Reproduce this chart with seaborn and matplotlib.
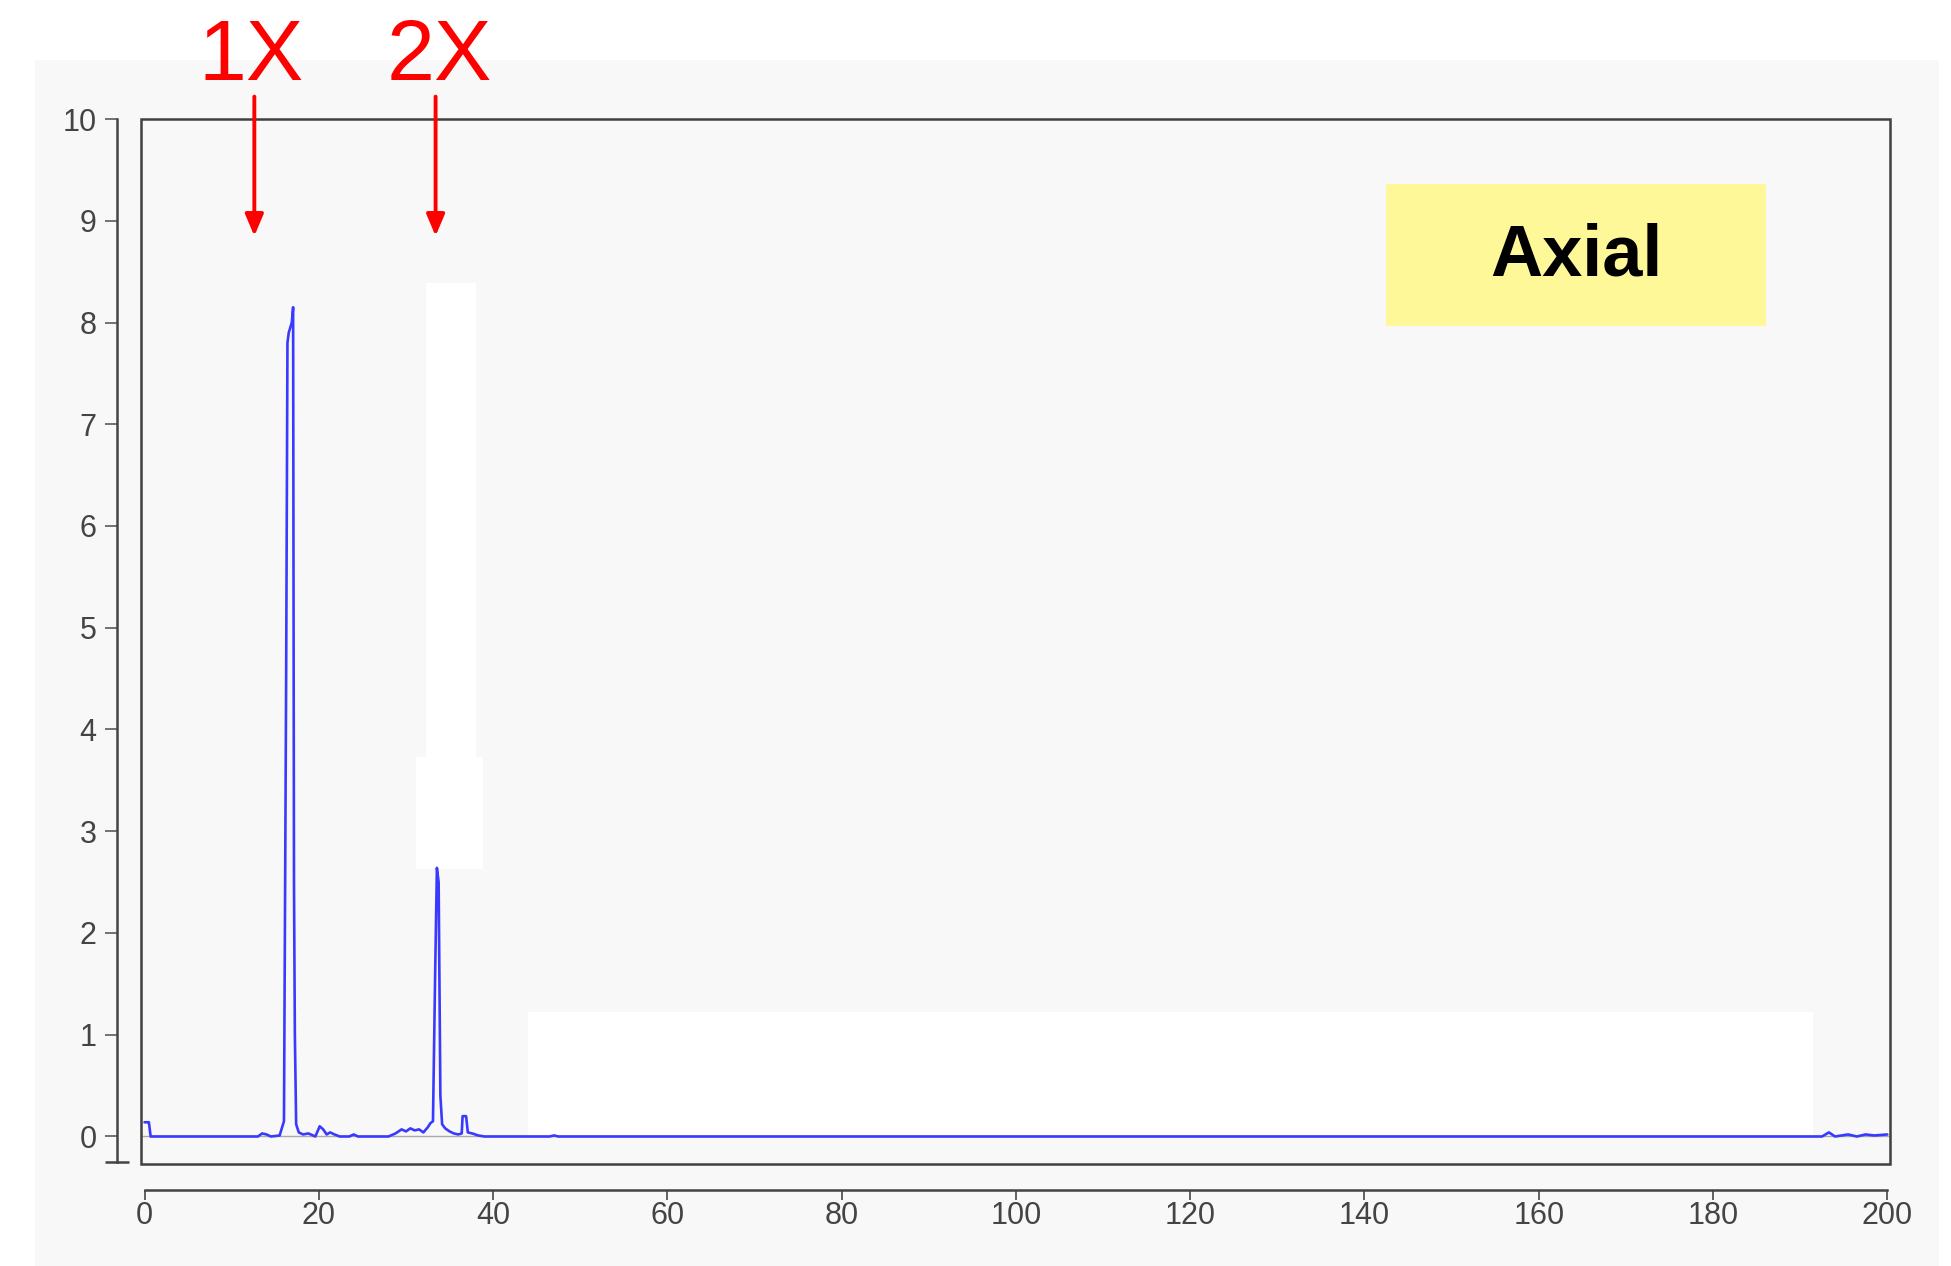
import matplotlib
matplotlib.use('Agg')
import matplotlib.pyplot as plt
from matplotlib.patches import Rectangle
import seaborn as sns

# spectrum (frequency, amplitude)
freq = [0, 0.3, 0.5, 0.7, 13.0, 13.5, 14.0, 14.5, 15.5, 16.0, 16.25, 16.4, 16.55,
        16.9, 17.05, 17.15, 17.25, 17.4, 17.7, 18.2, 18.8, 19.6, 20.1, 20.5, 20.9,
        21.3, 21.8, 22.4, 23.5, 24.0, 24.5, 28.0, 28.8, 29.5, 30.0, 30.5, 31.0,
        31.5, 32.0, 32.5, 32.8, 33.1, 33.35, 33.55, 33.75, 33.95, 34.15, 34.5,
        35.0, 35.5, 36.0, 36.4, 36.5, 36.9, 37.1, 37.6, 38.3, 39.0, 46.5, 47.0,
        47.5, 192.5, 193.3, 194.0, 195.5, 196.5, 197.5, 198.5, 200]
amp = [0.14, 0.14, 0.14, 0.0, 0.0, 0.03, 0.02, 0.0, 0.01, 0.15, 4.5, 7.8, 7.9,
       8.0, 8.15, 2.5, 1.0, 0.12, 0.04, 0.02, 0.03, 0.0, 0.1, 0.07, 0.02,
       0.04, 0.02, 0.0, 0.0, 0.02, 0.0, 0.0, 0.03, 0.07, 0.05, 0.08, 0.06,
       0.07, 0.04, 0.09, 0.13, 0.15, 1.6, 2.64, 2.5, 0.4, 0.12, 0.08,
       0.05, 0.03, 0.02, 0.03, 0.2, 0.2, 0.04, 0.03, 0.01, 0.0, 0.0, 0.01,
       0.0, 0.0, 0.04, 0.0, 0.02, 0.0, 0.02, 0.01, 0.02]

x_ticks = [0, 20, 40, 60, 80, 100, 120, 140, 160, 180, 200]
y_ticks = [0, 1, 2, 3, 4, 5, 6, 7, 8, 9, 10]

# harmonic markers
order_labels = ['1X', '2X']
order_freq = [12.6, 33.4]
order_label_x = [12.2, 33.8]

panel_title = 'Axial'

sns.set_style('white')
plt.rcParams['font.family'] = ['Liberation Sans', 'DejaVu Sans']

fig = plt.figure(figsize=(19.51, 12.66), dpi=100)
fig.patch.set_facecolor('white')
# light grey slide panel behind the chart
fig.patches.append(Rectangle((35 / 1951, 0), (1939 - 35) / 1951, 1 - 60 / 1266,
                             transform=fig.transFigure, facecolor='#f8f8f8',
                             edgecolor='none', zorder=-10))

ax = fig.add_axes([0.0723, 0.0806, 0.8964, 0.8254])
ax.set_facecolor('#f8f8f8')

# erased white areas seen in the picture
for (px, py, pw, ph) in [(0.163, 0.387, 0.0284, 0.456),
                         (0.157, 0.2825, 0.0384, 0.107),
                         (0.221, 0.0274, 0.735, 0.118)]:
    ax.add_patch(Rectangle((px, py), pw, ph, transform=ax.transAxes,
                           facecolor='white', edgecolor='none', zorder=0.5))

ax.axhline(0, color='#aaaaaa', lw=1.0, zorder=1)
sns.lineplot(x=freq, y=amp, ax=ax, color='#3a3aff', lw=1.9, sort=False,
             estimator=None, zorder=2)

ax.set_xlim(-0.4, 200.3)
ax.set_ylim(-0.27, 10)

# plot frame
ax.add_patch(Rectangle((0, 0), 1, 1, transform=ax.transAxes, fill=False,
                       edgecolor='#404040', lw=1.8, clip_on=False, zorder=5))

for side in ['top', 'right']:
    ax.spines[side].set_visible(False)
ax.spines['left'].set_position(('outward', 17))
ax.spines['bottom'].set_position(('outward', 18.7))
ax.spines['left'].set_bounds(-0.25, 10)
ax.spines['bottom'].set_bounds(0, 200)
for side in ['left', 'bottom']:
    ax.spines[side].set_color('#444444')
    ax.spines[side].set_linewidth(1.8)

ax.set_xticks(x_ticks)
ax.set_xticklabels([str(v) for v in x_ticks])
ax.set_yticks(y_ticks)
ax.set_yticklabels([str(v) for v in y_ticks])
ax.set_xticks([0, 200], minor=True)
ax.set_yticks([-0.25, 10], minor=True)

ax.tick_params(axis='x', which='both', bottom=True, top=False)
ax.tick_params(axis='y', which='both', left=True, right=False)
ax.tick_params(axis='x', which='major', direction='out', length=7, width=1.3,
               color='#555555', labelsize=22, labelcolor='#444444', pad=1)
ax.tick_params(axis='x', which='minor', direction='inout', length=16, width=1.6,
               color='#444444')
ax.tick_params(axis='y', which='major', direction='out', length=9, width=1.3,
               color='#666666', labelsize=22, labelcolor='#444444', pad=6)
ax.tick_params(axis='y', which='minor', direction='inout', length=17, width=1.8,
               color='#444444')
ax.set_xlabel('')
ax.set_ylabel('')

# 1X / 2X labels with arrows
for lab, fx, lx in zip(order_labels, order_freq, order_label_x):
    ax.annotate('', xy=(fx, 8.85), xytext=(fx, 10.22),
                arrowprops=dict(arrowstyle='-|>,head_length=1.3,head_width=0.55',
                                color='red', lw=2.8, shrinkA=0, shrinkB=0),
                annotation_clip=False, zorder=6)
    ax.text(lx, 10.6, lab, color='red', fontsize=62, ha='center',
            va='center', clip_on=False)

# label box
ax.add_patch(Rectangle((0.712, 0.802), 0.217, 0.136, transform=ax.transAxes,
                       facecolor='#fff899', edgecolor='none', zorder=4))
ax.text(0.8205, 0.868, panel_title, transform=ax.transAxes, fontsize=52,
        fontweight='bold', color='black', ha='center', va='center', zorder=5)

fig.savefig('out.png', dpi=100)
